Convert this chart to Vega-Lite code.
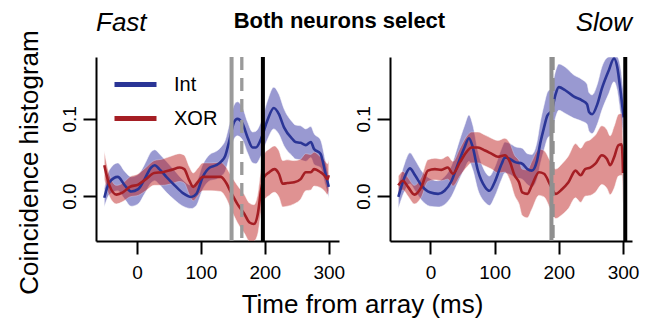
{
  "$schema": "https://vega.github.io/schema/vega-lite/v6.json",
  "padding": {"left": 15, "top": 9, "right": 5, "bottom": 3},
  "background": "white",
  "config": {
    "view": {"stroke": null},
    "font": "Liberation Sans",
    "axis": {"domainColor": "black", "domainWidth": 2, "tickColor": "black", "tickWidth": 2, "tickSize": 13, "labelColor": "black", "labelFontSize": 19, "labelFont": "Liberation Sans", "titleFont": "Liberation Sans", "titleFontSize": 26, "titleFontWeight": "normal", "titleColor": "black", "grid": false},
    "legend": {"labelFont": "Liberation Sans", "labelColor": "black"},
    "title": {"font": "Liberation Sans", "color": "black"}
  },
  "title": {"text": "Both neurons select", "fontSize": 22, "fontWeight": "bold", "anchor": "middle", "offset": -40, "dx": 12, "baseline": "alphabetic"},
  "bounds": "flush",
  "spacing": 51,
  "datasets": {
    "curves": [
      {"p":"Fast","s":"Int","t":-51,"y":-0.002,"lo":-0.014,"hi":0.010},
      {"p":"Fast","s":"Int","t":-43,"y":0.018,"lo":0.002,"hi":0.034},
      {"p":"Fast","s":"Int","t":-30,"y":0.025,"lo":0.007,"hi":0.043},
      {"p":"Fast","s":"Int","t":-19,"y":0.014,"lo":-0.004,"hi":0.032},
      {"p":"Fast","s":"Int","t":-9,"y":0.006,"lo":-0.013,"hi":0.025},
      {"p":"Fast","s":"Int","t":2,"y":0.009,"lo":-0.010,"hi":0.028},
      {"p":"Fast","s":"Int","t":12,"y":0.022,"lo":0.003,"hi":0.041},
      {"p":"Fast","s":"Int","t":22,"y":0.037,"lo":0.017,"hi":0.057},
      {"p":"Fast","s":"Int","t":28,"y":0.040,"lo":0.020,"hi":0.060},
      {"p":"Fast","s":"Int","t":35,"y":0.035,"lo":0.015,"hi":0.055},
      {"p":"Fast","s":"Int","t":46,"y":0.025,"lo":0.005,"hi":0.045},
      {"p":"Fast","s":"Int","t":59,"y":0.014,"lo":-0.005,"hi":0.033},
      {"p":"Fast","s":"Int","t":72,"y":0.004,"lo":-0.013,"hi":0.021},
      {"p":"Fast","s":"Int","t":85,"y":-0.001,"lo":-0.016,"hi":0.014},
      {"p":"Fast","s":"Int","t":93,"y":0.003,"lo":-0.012,"hi":0.018},
      {"p":"Fast","s":"Int","t":103,"y":0.025,"lo":0.009,"hi":0.041},
      {"p":"Fast","s":"Int","t":114,"y":0.037,"lo":0.020,"hi":0.054},
      {"p":"Fast","s":"Int","t":124,"y":0.040,"lo":0.022,"hi":0.058},
      {"p":"Fast","s":"Int","t":132,"y":0.045,"lo":0.026,"hi":0.064},
      {"p":"Fast","s":"Int","t":138,"y":0.052,"lo":0.032,"hi":0.072},
      {"p":"Fast","s":"Int","t":144,"y":0.070,"lo":0.049,"hi":0.091},
      {"p":"Fast","s":"Int","t":152,"y":0.096,"lo":0.074,"hi":0.118},
      {"p":"Fast","s":"Int","t":157,"y":0.100,"lo":0.078,"hi":0.122},
      {"p":"Fast","s":"Int","t":165,"y":0.094,"lo":0.073,"hi":0.115},
      {"p":"Fast","s":"Int","t":173,"y":0.076,"lo":0.056,"hi":0.096},
      {"p":"Fast","s":"Int","t":181,"y":0.063,"lo":0.043,"hi":0.083},
      {"p":"Fast","s":"Int","t":186,"y":0.063,"lo":0.042,"hi":0.084},
      {"p":"Fast","s":"Int","t":194,"y":0.074,"lo":0.052,"hi":0.096},
      {"p":"Fast","s":"Int","t":204,"y":0.098,"lo":0.073,"hi":0.123},
      {"p":"Fast","s":"Int","t":214,"y":0.114,"lo":0.087,"hi":0.141},
      {"p":"Fast","s":"Int","t":222,"y":0.106,"lo":0.080,"hi":0.132},
      {"p":"Fast","s":"Int","t":230,"y":0.089,"lo":0.065,"hi":0.113},
      {"p":"Fast","s":"Int","t":243,"y":0.074,"lo":0.052,"hi":0.096},
      {"p":"Fast","s":"Int","t":248,"y":0.070,"lo":0.048,"hi":0.092},
      {"p":"Fast","s":"Int","t":256,"y":0.069,"lo":0.047,"hi":0.091},
      {"p":"Fast","s":"Int","t":264,"y":0.066,"lo":0.045,"hi":0.087},
      {"p":"Fast","s":"Int","t":272,"y":0.070,"lo":0.050,"hi":0.090},
      {"p":"Fast","s":"Int","t":277,"y":0.061,"lo":0.041,"hi":0.081},
      {"p":"Fast","s":"Int","t":287,"y":0.055,"lo":0.037,"hi":0.073},
      {"p":"Fast","s":"Int","t":295,"y":0.029,"lo":0.013,"hi":0.045},
      {"p":"Fast","s":"Int","t":300,"y":0.012,"lo":-0.002,"hi":0.026},
      {"p":"Fast","s":"XOR","t":-51,"y":0.040,"lo":0.022,"hi":0.058},
      {"p":"Fast","s":"XOR","t":-43,"y":0.014,"lo":0.000,"hi":0.028},
      {"p":"Fast","s":"XOR","t":-32,"y":0.002,"lo":-0.010,"hi":0.014},
      {"p":"Fast","s":"XOR","t":-22,"y":0.005,"lo":-0.007,"hi":0.017},
      {"p":"Fast","s":"XOR","t":-11,"y":0.012,"lo":-0.001,"hi":0.025},
      {"p":"Fast","s":"XOR","t":2,"y":0.015,"lo":0.001,"hi":0.029},
      {"p":"Fast","s":"XOR","t":14,"y":0.022,"lo":0.007,"hi":0.037},
      {"p":"Fast","s":"XOR","t":27,"y":0.030,"lo":0.014,"hi":0.046},
      {"p":"Fast","s":"XOR","t":40,"y":0.031,"lo":0.014,"hi":0.048},
      {"p":"Fast","s":"XOR","t":54,"y":0.034,"lo":0.016,"hi":0.052},
      {"p":"Fast","s":"XOR","t":67,"y":0.037,"lo":0.019,"hi":0.055},
      {"p":"Fast","s":"XOR","t":74,"y":0.035,"lo":0.017,"hi":0.053},
      {"p":"Fast","s":"XOR","t":82,"y":0.020,"lo":0.002,"hi":0.038},
      {"p":"Fast","s":"XOR","t":88,"y":0.012,"lo":-0.006,"hi":0.030},
      {"p":"Fast","s":"XOR","t":95,"y":0.018,"lo":0.000,"hi":0.036},
      {"p":"Fast","s":"XOR","t":103,"y":0.025,"lo":0.007,"hi":0.043},
      {"p":"Fast","s":"XOR","t":116,"y":0.025,"lo":0.007,"hi":0.043},
      {"p":"Fast","s":"XOR","t":131,"y":0.025,"lo":0.006,"hi":0.044},
      {"p":"Fast","s":"XOR","t":139,"y":0.018,"lo":-0.002,"hi":0.038},
      {"p":"Fast","s":"XOR","t":147,"y":0.005,"lo":-0.017,"hi":0.027},
      {"p":"Fast","s":"XOR","t":157,"y":-0.010,"lo":-0.034,"hi":0.014},
      {"p":"Fast","s":"XOR","t":168,"y":-0.023,"lo":-0.048,"hi":0.002},
      {"p":"Fast","s":"XOR","t":176,"y":-0.034,"lo":-0.058,"hi":-0.009},
      {"p":"Fast","s":"XOR","t":183,"y":-0.036,"lo":-0.058,"hi":-0.011},
      {"p":"Fast","s":"XOR","t":189,"y":-0.023,"lo":-0.049,"hi":0.003},
      {"p":"Fast","s":"XOR","t":194,"y":0.007,"lo":-0.021,"hi":0.035},
      {"p":"Fast","s":"XOR","t":199,"y":0.025,"lo":-0.005,"hi":0.055},
      {"p":"Fast","s":"XOR","t":207,"y":0.031,"lo":0.001,"hi":0.061},
      {"p":"Fast","s":"XOR","t":215,"y":0.035,"lo":0.005,"hi":0.065},
      {"p":"Fast","s":"XOR","t":222,"y":0.029,"lo":-0.001,"hi":0.059},
      {"p":"Fast","s":"XOR","t":228,"y":0.016,"lo":-0.014,"hi":0.046},
      {"p":"Fast","s":"XOR","t":235,"y":0.017,"lo":-0.013,"hi":0.047},
      {"p":"Fast","s":"XOR","t":246,"y":0.018,"lo":-0.010,"hi":0.046},
      {"p":"Fast","s":"XOR","t":256,"y":0.022,"lo":-0.004,"hi":0.048},
      {"p":"Fast","s":"XOR","t":264,"y":0.031,"lo":0.007,"hi":0.055},
      {"p":"Fast","s":"XOR","t":272,"y":0.031,"lo":0.008,"hi":0.054},
      {"p":"Fast","s":"XOR","t":277,"y":0.035,"lo":0.013,"hi":0.057},
      {"p":"Fast","s":"XOR","t":287,"y":0.031,"lo":0.011,"hi":0.051},
      {"p":"Fast","s":"XOR","t":293,"y":0.027,"lo":0.007,"hi":0.047},
      {"p":"Fast","s":"XOR","t":298,"y":0.022,"lo":0.002,"hi":0.042},
      {"p":"Fast","s":"XOR","t":300,"y":0.027,"lo":0.007,"hi":0.047},
      {"p":"Slow","s":"Int","t":-50,"y":-0.001,"lo":-0.016,"hi":0.014},
      {"p":"Slow","s":"Int","t":-40,"y":0.025,"lo":0.007,"hi":0.043},
      {"p":"Slow","s":"Int","t":-32,"y":0.036,"lo":0.016,"hi":0.056},
      {"p":"Slow","s":"Int","t":-24,"y":0.027,"lo":0.007,"hi":0.047},
      {"p":"Slow","s":"Int","t":-14,"y":0.014,"lo":-0.005,"hi":0.033},
      {"p":"Slow","s":"Int","t":-1,"y":0.005,"lo":-0.013,"hi":0.023},
      {"p":"Slow","s":"Int","t":12,"y":0.003,"lo":-0.014,"hi":0.020},
      {"p":"Slow","s":"Int","t":22,"y":0.007,"lo":-0.011,"hi":0.025},
      {"p":"Slow","s":"Int","t":33,"y":0.020,"lo":0.000,"hi":0.040},
      {"p":"Slow","s":"Int","t":43,"y":0.042,"lo":0.018,"hi":0.066},
      {"p":"Slow","s":"Int","t":53,"y":0.063,"lo":0.035,"hi":0.091},
      {"p":"Slow","s":"Int","t":60,"y":0.075,"lo":0.045,"hi":0.105},
      {"p":"Slow","s":"Int","t":66,"y":0.063,"lo":0.034,"hi":0.092},
      {"p":"Slow","s":"Int","t":74,"y":0.033,"lo":0.008,"hi":0.058},
      {"p":"Slow","s":"Int","t":85,"y":0.012,"lo":-0.008,"hi":0.032},
      {"p":"Slow","s":"Int","t":92,"y":0.007,"lo":-0.012,"hi":0.026},
      {"p":"Slow","s":"Int","t":100,"y":0.018,"lo":-0.001,"hi":0.037},
      {"p":"Slow","s":"Int","t":111,"y":0.042,"lo":0.022,"hi":0.062},
      {"p":"Slow","s":"Int","t":116,"y":0.050,"lo":0.030,"hi":0.070},
      {"p":"Slow","s":"Int","t":124,"y":0.048,"lo":0.028,"hi":0.068},
      {"p":"Slow","s":"Int","t":132,"y":0.044,"lo":0.024,"hi":0.064},
      {"p":"Slow","s":"Int","t":143,"y":0.042,"lo":0.022,"hi":0.062},
      {"p":"Slow","s":"Int","t":151,"y":0.035,"lo":0.015,"hi":0.055},
      {"p":"Slow","s":"Int","t":158,"y":0.033,"lo":0.012,"hi":0.054},
      {"p":"Slow","s":"Int","t":166,"y":0.046,"lo":0.022,"hi":0.070},
      {"p":"Slow","s":"Int","t":171,"y":0.068,"lo":0.041,"hi":0.095},
      {"p":"Slow","s":"Int","t":177,"y":0.089,"lo":0.060,"hi":0.118},
      {"p":"Slow","s":"Int","t":182,"y":0.104,"lo":0.074,"hi":0.134},
      {"p":"Slow","s":"Int","t":189,"y":0.111,"lo":0.081,"hi":0.141},
      {"p":"Slow","s":"Int","t":195,"y":0.132,"lo":0.102,"hi":0.162},
      {"p":"Slow","s":"Int","t":200,"y":0.141,"lo":0.111,"hi":0.171},
      {"p":"Slow","s":"Int","t":210,"y":0.137,"lo":0.107,"hi":0.167},
      {"p":"Slow","s":"Int","t":223,"y":0.129,"lo":0.101,"hi":0.157},
      {"p":"Slow","s":"Int","t":236,"y":0.124,"lo":0.097,"hi":0.151},
      {"p":"Slow","s":"Int","t":244,"y":0.119,"lo":0.093,"hi":0.145},
      {"p":"Slow","s":"Int","t":247,"y":0.109,"lo":0.084,"hi":0.134},
      {"p":"Slow","s":"Int","t":252,"y":0.106,"lo":0.081,"hi":0.131},
      {"p":"Slow","s":"Int","t":260,"y":0.119,"lo":0.093,"hi":0.145},
      {"p":"Slow","s":"Int","t":267,"y":0.139,"lo":0.111,"hi":0.167},
      {"p":"Slow","s":"Int","t":278,"y":0.163,"lo":0.133,"hi":0.18},
      {"p":"Slow","s":"Int","t":286,"y":0.178,"lo":0.148,"hi":0.18},
      {"p":"Slow","s":"Int","t":291,"y":0.167,"lo":0.137,"hi":0.18},
      {"p":"Slow","s":"Int","t":296,"y":0.137,"lo":0.107,"hi":0.167},
      {"p":"Slow","s":"Int","t":301,"y":0.102,"lo":0.072,"hi":0.132},
      {"p":"Slow","s":"XOR","t":-50,"y":0.014,"lo":0.002,"hi":0.026},
      {"p":"Slow","s":"XOR","t":-43,"y":0.020,"lo":0.008,"hi":0.032},
      {"p":"Slow","s":"XOR","t":-35,"y":0.012,"lo":0.000,"hi":0.024},
      {"p":"Slow","s":"XOR","t":-25,"y":0.002,"lo":-0.010,"hi":0.014},
      {"p":"Slow","s":"XOR","t":-14,"y":0.012,"lo":-0.001,"hi":0.025},
      {"p":"Slow","s":"XOR","t":-4,"y":0.033,"lo":0.019,"hi":0.047},
      {"p":"Slow","s":"XOR","t":7,"y":0.035,"lo":0.021,"hi":0.049},
      {"p":"Slow","s":"XOR","t":17,"y":0.034,"lo":0.020,"hi":0.048},
      {"p":"Slow","s":"XOR","t":27,"y":0.037,"lo":0.022,"hi":0.052},
      {"p":"Slow","s":"XOR","t":35,"y":0.029,"lo":0.013,"hi":0.045},
      {"p":"Slow","s":"XOR","t":46,"y":0.044,"lo":0.026,"hi":0.062},
      {"p":"Slow","s":"XOR","t":56,"y":0.057,"lo":0.037,"hi":0.077},
      {"p":"Slow","s":"XOR","t":64,"y":0.063,"lo":0.043,"hi":0.083},
      {"p":"Slow","s":"XOR","t":74,"y":0.063,"lo":0.043,"hi":0.083},
      {"p":"Slow","s":"XOR","t":85,"y":0.059,"lo":0.039,"hi":0.079},
      {"p":"Slow","s":"XOR","t":95,"y":0.055,"lo":0.035,"hi":0.075},
      {"p":"Slow","s":"XOR","t":105,"y":0.051,"lo":0.030,"hi":0.072},
      {"p":"Slow","s":"XOR","t":116,"y":0.053,"lo":0.031,"hi":0.075},
      {"p":"Slow","s":"XOR","t":124,"y":0.044,"lo":0.020,"hi":0.068},
      {"p":"Slow","s":"XOR","t":131,"y":0.027,"lo":0.001,"hi":0.053},
      {"p":"Slow","s":"XOR","t":138,"y":0.018,"lo":-0.010,"hi":0.046},
      {"p":"Slow","s":"XOR","t":143,"y":0.005,"lo":-0.025,"hi":0.035},
      {"p":"Slow","s":"XOR","t":151,"y":0.003,"lo":-0.028,"hi":0.034},
      {"p":"Slow","s":"XOR","t":158,"y":0.014,"lo":-0.017,"hi":0.045},
      {"p":"Slow","s":"XOR","t":169,"y":0.031,"lo":0.001,"hi":0.061},
      {"p":"Slow","s":"XOR","t":177,"y":0.029,"lo":-0.001,"hi":0.059},
      {"p":"Slow","s":"XOR","t":187,"y":0.014,"lo":-0.017,"hi":0.045},
      {"p":"Slow","s":"XOR","t":195,"y":0.003,"lo":-0.029,"hi":0.035},
      {"p":"Slow","s":"XOR","t":205,"y":0.009,"lo":-0.024,"hi":0.042},
      {"p":"Slow","s":"XOR","t":215,"y":0.018,"lo":-0.016,"hi":0.052},
      {"p":"Slow","s":"XOR","t":226,"y":0.033,"lo":-0.002,"hi":0.068},
      {"p":"Slow","s":"XOR","t":234,"y":0.027,"lo":-0.008,"hi":0.062},
      {"p":"Slow","s":"XOR","t":241,"y":0.035,"lo":0.000,"hi":0.070},
      {"p":"Slow","s":"XOR","t":249,"y":0.037,"lo":0.001,"hi":0.073},
      {"p":"Slow","s":"XOR","t":257,"y":0.042,"lo":0.005,"hi":0.079},
      {"p":"Slow","s":"XOR","t":267,"y":0.053,"lo":0.015,"hi":0.091},
      {"p":"Slow","s":"XOR","t":275,"y":0.048,"lo":0.010,"hi":0.086},
      {"p":"Slow","s":"XOR","t":280,"y":0.040,"lo":0.002,"hi":0.078},
      {"p":"Slow","s":"XOR","t":286,"y":0.050,"lo":0.010,"hi":0.090},
      {"p":"Slow","s":"XOR","t":293,"y":0.066,"lo":0.026,"hi":0.106},
      {"p":"Slow","s":"XOR","t":298,"y":0.067,"lo":0.027,"hi":0.107},
      {"p":"Slow","s":"XOR","t":300,"y":0.030,"lo":-0.010,"hi":0.070}
    ],
    "rules": [
      {"p":"Fast","k":"grey","t":148},
      {"p":"Fast","k":"dash","t":164},
      {"p":"Fast","k":"black","t":197},
      {"p":"Slow","k":"grey","t":188.5},
      {"p":"Slow","k":"dash","t":191},
      {"p":"Slow","k":"black","t":303.5}
    ]
  },
  "hconcat": [
    {
      "width": 243, "height": 184,
      "title": {"text": "Fast", "anchor": "start", "frame": "group", "fontStyle": "italic", "fontWeight": "normal", "fontSize": 26, "offset": -27, "baseline": "alphabetic"},
      "layer": [
        {
          "data": {"name": "curves"},
          "transform": [{"filter": "datum.p === 'Fast' && datum.s === 'Int'"}],
          "mark": {"type": "area", "interpolate": "monotone", "color": "#3535a5", "opacity": 0.5, "stroke": "white", "strokeOpacity": 0.5, "strokeWidth": 1, "clip": true},
          "encoding": {
            "x": {"field": "t", "type": "quantitative", "scale": {"domain": [-64, 316], "nice": false, "zero": false},
                  "axis": {"values": [0, 100, 200, 300], "labelPadding": 9, "title": "Time from array (ms)", "titleX": 266, "titleY": 71, "titleAlign": "center", "titleBaseline": "alphabetic"}},
            "y": {"field": "lo", "type": "quantitative", "scale": {"domain": [-0.058, 0.18], "nice": false, "zero": false},
                  "axis": {"values": [0, 0.1], "format": ".1f", "labelAngle": -90, "labelAlign": "center", "labelBaseline": "bottom", "labelPadding": 4, "title": "Coincidence histogram", "titleX": -59, "titleY": 105, "titleAlign": "center", "titleBaseline": "alphabetic", "titleAngle": -90}},
            "y2": {"field": "hi"}
          }
        },
        {
          "data": {"name": "curves"},
          "transform": [{"filter": "datum.p === 'Fast' && datum.s === 'XOR'"}],
          "mark": {"type": "area", "interpolate": "monotone", "color": "#c02828", "opacity": 0.5, "stroke": "white", "strokeOpacity": 0.5, "strokeWidth": 1, "clip": true},
          "encoding": {
            "x": {"field": "t", "type": "quantitative"},
            "y": {"field": "lo", "type": "quantitative"},
            "y2": {"field": "hi"}
          }
        },
        {
          "data": {"name": "curves"},
          "transform": [{"filter": "datum.p === 'Fast'"}],
          "mark": {"type": "line", "interpolate": "monotone", "strokeWidth": 2.6, "clip": true},
          "encoding": {
            "x": {"field": "t", "type": "quantitative"},
            "y": {"field": "y", "type": "quantitative"},
            "color": {"field": "s", "type": "nominal", "scale": {"domain": ["Int", "XOR"], "range": ["#2a3596", "#a51e24"]},
                      "legend": {"orient": "none", "legendX": 16, "legendY": 4, "title": null, "symbolType": "stroke", "symbolStrokeWidth": 5, "symbolSize": 1764, "labelFontSize": 20, "labelOffset": 15, "rowPadding": -8}}
          }
        },
        {
          "data": {"name": "rules"},
          "transform": [{"filter": "datum.p === 'Fast' && datum.k === 'grey'"}],
          "mark": {"type": "rule", "color": "#9a9a9a", "strokeWidth": 4},
          "encoding": {"x": {"field": "t", "type": "quantitative"}}
        },
        {
          "data": {"name": "rules"},
          "transform": [{"filter": "datum.p === 'Fast' && datum.k === 'dash'"}],
          "mark": {"type": "rule", "color": "#9a9a9a", "strokeWidth": 3.3, "strokeDash": [13, 8]},
          "encoding": {"x": {"field": "t", "type": "quantitative"}}
        },
        {
          "data": {"name": "rules"},
          "transform": [{"filter": "datum.p === 'Fast' && datum.k === 'black'"}],
          "mark": {"type": "rule", "color": "black", "strokeWidth": 4},
          "encoding": {"x": {"field": "t", "type": "quantitative"}}
        }
      ]
    },
    {
      "width": 242, "height": 184,
      "title": {"text": "Slow", "anchor": "end", "frame": "group", "fontStyle": "italic", "fontWeight": "normal", "fontSize": 26, "offset": -2, "baseline": "alphabetic"},
      "layer": [
        {
          "data": {"name": "curves"},
          "transform": [{"filter": "datum.p === 'Slow' && datum.s === 'Int'"}],
          "mark": {"type": "area", "interpolate": "monotone", "color": "#3535a5", "opacity": 0.5, "stroke": "white", "strokeOpacity": 0.5, "strokeWidth": 1, "clip": true},
          "encoding": {
            "x": {"field": "t", "type": "quantitative", "scale": {"domain": [-63, 314], "nice": false, "zero": false},
                  "axis": {"values": [0, 100, 200, 300], "labelPadding": 9, "title": null}},
            "y": {"field": "lo", "type": "quantitative", "scale": {"domain": [-0.058, 0.18], "nice": false, "zero": false},
                  "axis": {"values": [0, 0.1], "format": ".1f", "labelAngle": -90, "labelAlign": "center", "labelBaseline": "bottom", "labelPadding": 4, "title": null}},
            "y2": {"field": "hi"}
          }
        },
        {
          "data": {"name": "curves"},
          "transform": [{"filter": "datum.p === 'Slow' && datum.s === 'XOR'"}],
          "mark": {"type": "area", "interpolate": "monotone", "color": "#c02828", "opacity": 0.5, "stroke": "white", "strokeOpacity": 0.5, "strokeWidth": 1, "clip": true},
          "encoding": {
            "x": {"field": "t", "type": "quantitative"},
            "y": {"field": "lo", "type": "quantitative"},
            "y2": {"field": "hi"}
          }
        },
        {
          "data": {"name": "curves"},
          "transform": [{"filter": "datum.p === 'Slow' && datum.s === 'Int'"}],
          "mark": {"type": "line", "interpolate": "monotone", "color": "#2a3596", "strokeWidth": 2.6, "clip": true},
          "encoding": {
            "x": {"field": "t", "type": "quantitative"},
            "y": {"field": "y", "type": "quantitative"}
          }
        },
        {
          "data": {"name": "curves"},
          "transform": [{"filter": "datum.p === 'Slow' && datum.s === 'XOR'"}],
          "mark": {"type": "line", "interpolate": "monotone", "color": "#a51e24", "strokeWidth": 2.6, "clip": true},
          "encoding": {
            "x": {"field": "t", "type": "quantitative"},
            "y": {"field": "y", "type": "quantitative"}
          }
        },
        {
          "data": {"name": "rules"},
          "transform": [{"filter": "datum.p === 'Slow' && datum.k === 'grey'"}],
          "mark": {"type": "rule", "color": "#8f8f8f", "strokeWidth": 4},
          "encoding": {"x": {"field": "t", "type": "quantitative"}}
        },
        {
          "data": {"name": "rules"},
          "transform": [{"filter": "datum.p === 'Slow' && datum.k === 'dash'"}],
          "mark": {"type": "rule", "color": "#8f8f8f", "strokeWidth": 3.3, "strokeDash": [13, 8]},
          "encoding": {"x": {"field": "t", "type": "quantitative"}}
        },
        {
          "data": {"name": "rules"},
          "transform": [{"filter": "datum.p === 'Slow' && datum.k === 'black'"}],
          "mark": {"type": "rule", "color": "black", "strokeWidth": 4},
          "encoding": {"x": {"field": "t", "type": "quantitative"}}
        }
      ]
    }
  ]
}
